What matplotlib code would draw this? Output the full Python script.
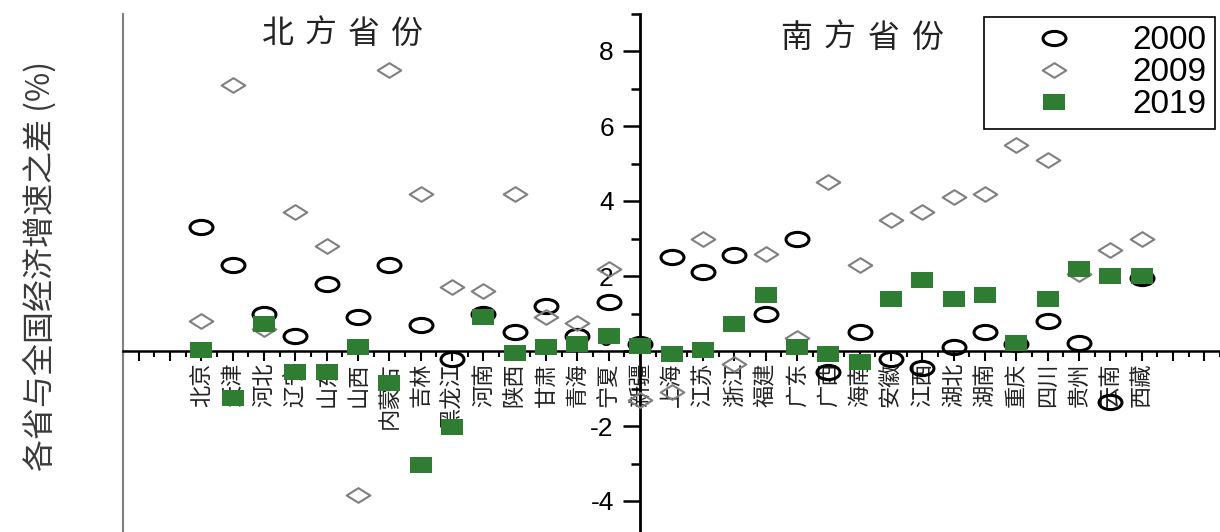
import numpy as np
import matplotlib.pyplot as plt
from matplotlib.path import Path

plt.rcParams['font.family'] = ['Noto Sans CJK SC', 'DejaVu Sans']
plt.rcParams['axes.unicode_minus'] = False

provinces = ['北京', '天津', '河北', '辽宁', '山东', '山西', '内蒙古', '吉林', '黑龙江',
             '河南', '陕西', '甘肃', '青海', '宁夏', '新疆',
             '上海', '江苏', '浙江', '福建', '广东', '广西', '海南', '安徽', '江西',
             '湖北', '湖南', '重庆', '四川', '贵州', '云南', '西藏']

# 各省与全国经济增速之差 (%)
v2000 = [3.3, 2.3, 1.0, 0.4, 1.8, 0.9, 2.3, 0.7, -0.2, 1.0, 0.5, 1.2, 0.4, 1.3, 0.2,
         2.5, 2.1, 2.55, 1.0, 3.0, -0.55, 0.5, -0.2, -0.45, 0.12, 0.5, 0.2, 0.8, 0.22, -1.35, 1.95]
v2009 = [0.8, 7.1, 0.6, 3.7, 2.8, -3.85, 7.5, 4.2, 1.7, 1.6, 4.2, 0.9, 0.75, 2.2, -1.3,
         -1.1, 3.0, -0.35, 2.6, 0.35, 4.5, 2.3, 3.5, 3.7, 4.1, 4.2, 5.5, 5.1, 2.05, 2.7, 3.0]
v2019 = [0.03, -1.25, 0.72, -0.56, -0.56, 0.1, -0.85, -3.05, -2.03, 0.9, -0.05, 0.1, 0.2, 0.4, 0.13,
         -0.08, 0.02, 0.73, 1.5, 0.11, -0.08, -0.28, 1.4, 1.9, 1.4, 1.5, 0.22, 1.4, 2.2, 2.0, 2.0]

yticks = [-4, -2, 0, 2, 4, 6, 8]
split = 14  # 新疆, where the y axis sits

# the source picture is stretched sideways, so the markers are flattened too
circ = Path.unit_circle()
m_circle = Path(circ.vertices * [1, 0.62], circ.codes)
m_diamond = Path([(0, 0.62), (1, 0), (0, -0.62), (-1, 0), (0, 0.62)], closed=True)
m_square = Path([(-1, -0.68), (1, -0.68), (1, 0.68), (-1, 0.68), (-1, -0.68)], closed=True)

W, H = 1220, 532
fig = plt.figure(figsize=(W / 100, H / 100), dpi=100)
ax = fig.add_axes([123 / W, -6.5 / H, 1097 / W, 525 / H])

x = np.arange(len(provinces))
ax.plot(x, v2000, ls='none', marker=m_circle, ms=16.5, mfc='none', mec='black', mew=2.2,
        label='2000', zorder=3)
ax.plot(x, v2009, ls='none', marker=m_diamond, ms=17, mfc='none', mec='#808080', mew=1.5,
        label='2009', zorder=3)
ax.plot(x, v2019, ls='none', marker=m_square, ms=16, mfc='#2e7d32', mec='#2e7d32', mew=0,
        label='2019', zorder=4)

ax.set_xlim(-2.5, 32.5)
ax.set_ylim(-5, 9)

ax.spines['left'].set_position(('data', split))
ax.spines['left'].set_linewidth(2)
ax.spines['bottom'].set_position(('data', 0))
ax.spines['bottom'].set_linewidth(1.8)
ax.spines['top'].set_visible(False)
ax.spines['right'].set_visible(False)
ax.axvline(-2.5, color='#808080', lw=1.5, clip_on=False)

ax.set_yticks(yticks, labels=[str(t) for t in yticks], fontfamily='Liberation Sans', fontsize=19)
ax.set_yticks(np.arange(-5, 10, 2), minor=True)
ax.tick_params(axis='y', which='major', direction='out', length=12, width=1.8, pad=7)
ax.tick_params(axis='y', which='minor', direction='out', length=6.5, width=1.8)
# keep the "0" clear of the province names underneath
ax.get_yticklabels()[yticks.index(0)].set_va('bottom')

xt = list(range(-2, 33))
xl = [provinces[i] if 0 <= i < len(provinces) else '' for i in xt]
ax.set_xticks(xt, labels=xl, rotation=90, fontsize=16, color='#222222')
ax.set_xticks(np.arange(-2.5, 33, 1), minor=True)
ax.tick_params(axis='x', which='major', direction='out', length=7, width=1.5, pad=1)
ax.tick_params(axis='x', which='minor', direction='out', length=4, width=1.5)

fig.text(40 / W, 1 - 266 / H, '各省与全国经济增速之差 (%)', rotation=90, fontsize=23,
         color='#3a3a3a', ha='center', va='center')


def spaced(s, x0, y0, pitch):
    for k, ch in enumerate(s):
        fig.text((x0 + k * pitch) / W, 1 - y0 / H, ch, fontsize=23, color='#222222',
                 ha='center', va='center')


spaced('北方省份', 278, 34, 43)
spaced('南方省份', 796, 38, 44)

leg = ax.legend(loc='upper right', bbox_to_anchor=(1215 / W, 1 - 17 / H),
                bbox_transform=fig.transFigure, borderaxespad=0, fancybox=False,
                framealpha=1, edgecolor='black', labelspacing=0.03,
                handlelength=3.7, handletextpad=0.5, borderpad=0.25,
                prop={'family': 'Liberation Sans', 'size': 24})
leg.get_frame().set_linewidth(1.2)

fig.savefig('out.png', dpi=100)
